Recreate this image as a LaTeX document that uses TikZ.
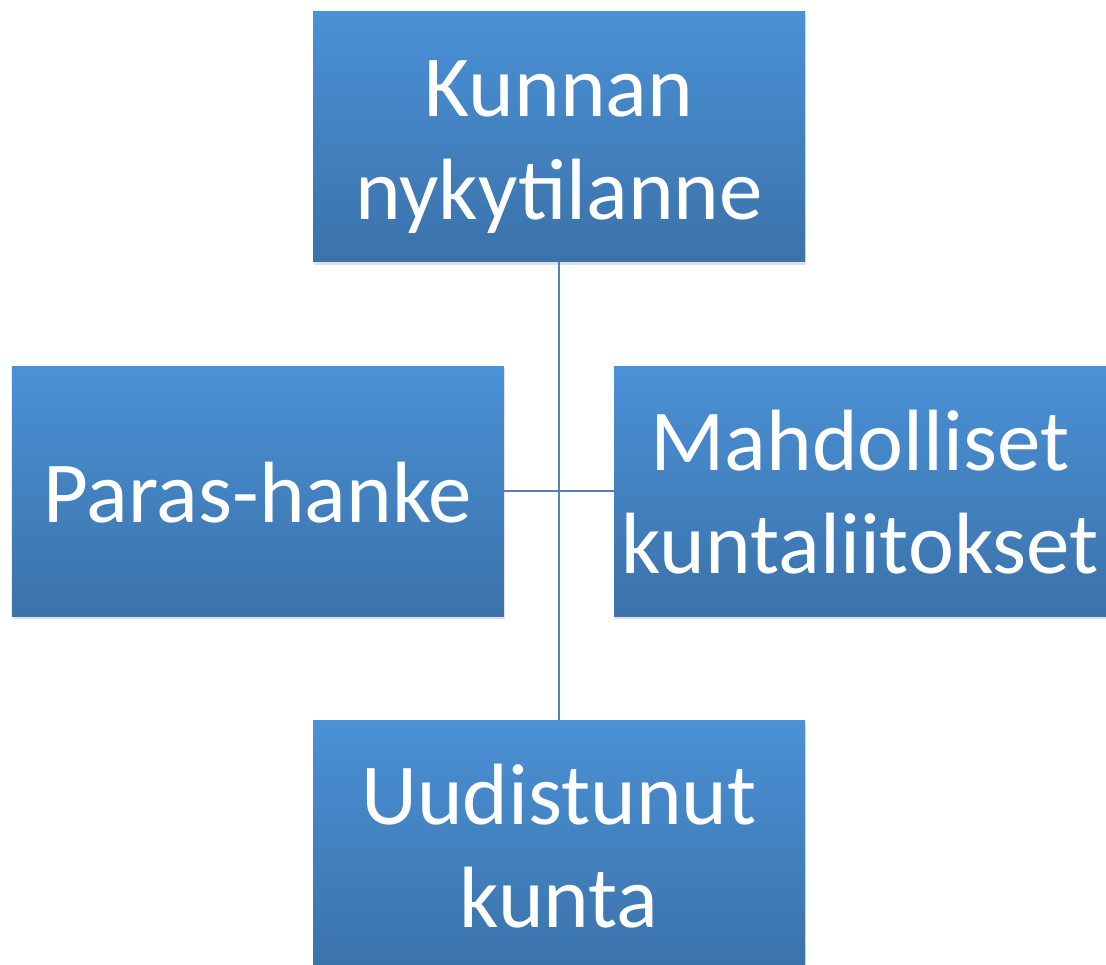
\documentclass[tikz,border=0pt]{standalone}
\usepackage{fontspec}
\setmainfont{Carlito}
\usepackage{tikz}
\usetikzlibrary{positioning,shadows}
\definecolor{topblue}{RGB}{74,145,214}
\definecolor{botblue}{RGB}{59,114,170}
\definecolor{linkblue}{RGB}{79,129,189}
\newcommand{\boxstrut}{\rule[-20pt]{0pt}{102pt}}% same height and depth in every box

\begin{document}
\begin{tikzpicture}[x=1pt,y=-1pt,% List of styles applied to all
	every node/.style={
		align=center,		% use this so that the "\\" for line break works
		text=white,
		font=\fontsize{87}{95}\selectfont,
		inner sep=0pt,
		minimum width=492pt,	% all boxes have the same size
		minimum height=250pt
		},
	every edge/.style={draw=linkblue,line width=2pt},
	box/.style={rectangle,top color=topblue,bottom color=botblue,
		drop shadow={shadow xshift=1pt,shadow yshift=-3pt,opacity=.2,fill=black!60}}
	]
	\useasboundingbox (0,0) rectangle (1106,965);
	\node[box](R1) at (559,137){\boxstrut Kunnan \\ \boxstrut nykytilanne};
	\coordinate[below=229pt of R1](C);
	\node[box](R2)[left=55pt of C]{\boxstrut Paras-hanke};
	\node[box](R3)[right=55pt of C]{\boxstrut Mahdolliset \\ \boxstrut kuntaliitokset};
	\node[box](R4)[below=229pt of C]{\boxstrut Uudistunut \\ \boxstrut kunta};
	\path[-]
	(R1)edge (R4)
	(R2)edge (R3)
	;
\end{tikzpicture}
\end{document}
